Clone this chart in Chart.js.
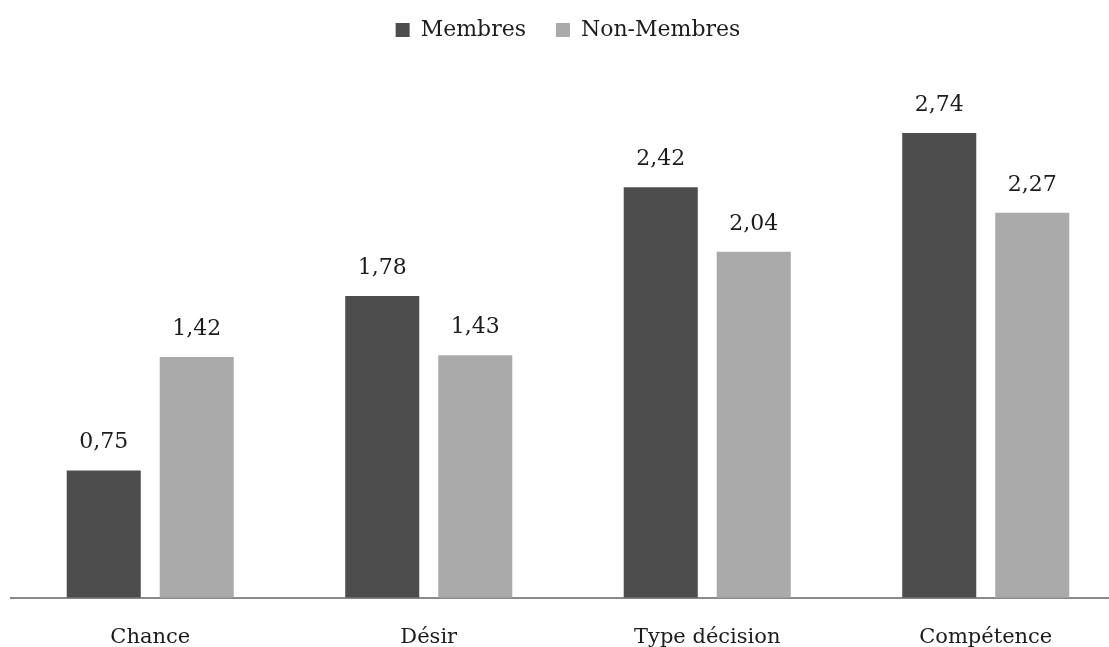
<!DOCTYPE html>
<html>
<head>
<meta charset="utf-8">
<script src="https://cdn.jsdelivr.net/npm/chart.js@4"></script>
<style>
  html, body { margin: 0; padding: 0; background: #fff; overflow: hidden; }
  canvas { display: block; }
</style>
</head>
<body>
<canvas id="chart1" width="1125" height="647"></canvas>
<script>
var categories = ['Chance', 'Désir', 'Type décision', 'Compétence'];
var membres = [0.75, 1.78, 2.42, 2.74];
var nonMembres = [1.42, 1.43, 2.04, 2.27];

var cDark = '#4d4d4d';
var cLight = '#aaaaaa';
var cText = '#1c1c1c';
var serif = '"DejaVu Serif", serif';

// writes each bar's value above it, with a decimal comma
var valueLabels = {
    id: 'valueLabels',
    afterDatasetsDraw: function (chart) {
        var ctx = chart.ctx;
        ctx.save();
        ctx.font = '22px ' + serif;
        ctx.fillStyle = cText;
        ctx.textAlign = 'center';
        ctx.textBaseline = 'middle';
        chart.data.datasets.forEach(function (ds, i) {
            chart.getDatasetMeta(i).data.forEach(function (bar, j) {
                ctx.fillText(ds.data[j].toFixed(2).replace('.', ','), bar.x, bar.y - 28);
            });
        });
        ctx.restore();
    }
};

// leave room under the legend before the bars start
var legendGap = {
    id: 'legendGap',
    beforeInit: function (chart) {
        var fit = chart.legend.fit;
        chart.legend.fit = function () {
            fit.bind(chart.legend)();
            this.height = 100;
        };
    }
};

chart1Ctx = document.querySelector('canvas#chart1').getContext('2d');

chart1 = new Chart(chart1Ctx, {
    type: 'bar',
    data: {
        labels: categories,
        datasets: [{
            label: 'Membres',
            data: membres,
            backgroundColor: cDark
        },
        {
            label: 'Non-Membres',
            data: nonMembres,
            backgroundColor: cLight
        }]
    },
    options: {
        responsive: false,
        animation: false,
        layout: { padding: { left: 11, right: 0, top: -11, bottom: -30 } },
        datasets: {
            bar: { categoryPercentage: 0.668, barPercentage: 0.796 }
        },
        plugins: {
            legend: {
                position: 'top',
                labels: {
                    boxWidth: 14,
                    boxHeight: 14,
                    padding: 30,
                    color: cText,
                    font: { family: serif, size: 22 }
                }
            },
            tooltip: { enabled: false }
        },
        scales: {
            x: {
                grid: { display: false, drawTicks: false },
                border: { color: '#8a8a8a', width: 2 },
                ticks: {
                    padding: 27,
                    color: cText,
                    font: { family: serif, size: 21 }
                }
            },
            y: {
                display: false,
                min: 0,
                max: 3
            }
        }
    },
    plugins: [valueLabels, legendGap]
});
</script>
</body>
</html>
